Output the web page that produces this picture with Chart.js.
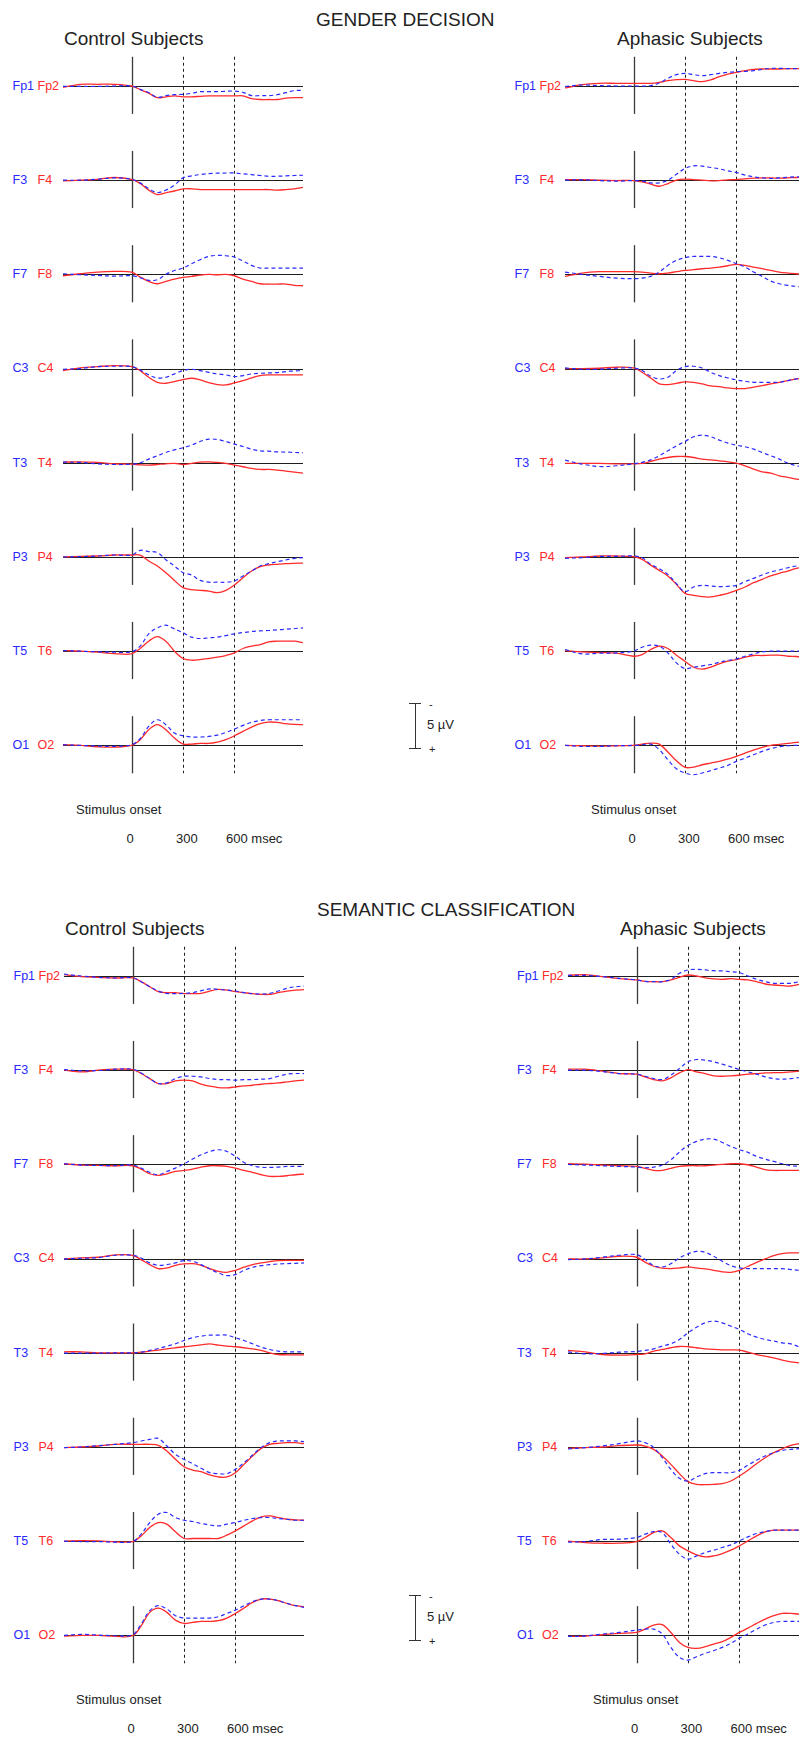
<!DOCTYPE html>
<html>
<head>
<meta charset="utf-8">
<title>ERP grand averages</title>
<script src="https://cdn.jsdelivr.net/npm/chart.js@4.4.1/dist/chart.umd.min.js"></script>
<style>
  html, body { margin: 0; padding: 0; background: #fff; }
  body { position: relative; width: 799px; height: 1740px; overflow: hidden;
         font-family: "Liberation Sans", Arial, sans-serif; color: #222; }
  canvas { position: absolute; }
  .txt { position: absolute; white-space: nowrap; }
  .bar { position: absolute; background: #333; }
</style>
</head>
<body>
<script>
// sample times (ms) shared by every trace
const times = [-400, -300, -200, -100, 0, 50, 100, 150, 200, 250, 300, 350, 400,
               450, 500, 550, 600, 650, 700, 750, 800, 850, 900, 950, 1000];
const leftSites  = ['Fp1', 'F3', 'F7', 'C3', 'T3', 'P3', 'T5', 'O1'];
const rightSites = ['Fp2', 'F4', 'F8', 'C4', 'T4', 'P4', 'T6', 'O2'];
const latencyMarks = [300, 600];
const timeLabels = ['0', '300', '600 msec'];

// amplitudes in µV (negative up), one row per electrode, same order as the sites
const genderControlLeft = [
  [0.05,0.05,0.05,0,0, 0.37,0.74,1.26,1.07,0.96,0.93,0.81,0.63,0.63,0.63,0.59,0.56,0.7,1.07,1.07,1.07,0.96,0.74,0.52,0.48],
  [0,0,-0.1,-0.26,-0.1, 0.3,0.93,1.37,1.1,0.55,-0.26,-0.48,-0.63,-0.74,-0.78,-0.8,-0.8,-0.7,-0.63,-0.52,-0.44,-0.44,-0.48,-0.52,-0.55],
  [-0.07,0.04,0.11,0.19,0.15, 0.37,0.67,0.59,0,-0.44,-0.7,-1.19,-1.63,-2.0,-2.11,-2.07,-1.93,-1.48,-1.0,-0.7,-0.7,-0.7,-0.7,-0.7,-0.7],
  [0.07,0,-0.22,-0.26,-0.22, 0.15,0.7,1.04,0.96,0.59,0.22,0.07,0.22,0.41,0.59,0.7,0.89,0.78,0.59,0.52,0.48,0.44,0.33,0.26,0.22],
  [-0.07,-0.04,0.11,0.19,0.15, 0,-0.41,-0.78,-1.15,-1.44,-1.67,-1.96,-2.37,-2.63,-2.59,-2.37,-2.07,-1.81,-1.52,-1.33,-1.3,-1.22,-1.19,-1.15,-1.11],
  [0,-0.04,-0.11,-0.22,-0.22, -0.74,-0.6,-0.5,0.3,1.0,1.74,2.0,2.6,2.8,2.8,2.8,2.67,2.1,1.56,1.0,0.74,0.52,0.33,0.15,0.07],
  [-0.07,0,0.07,0.11,0.07, -0.56,-1.93,-2.59,-2.89,-2.48,-2.04,-1.56,-1.41,-1.48,-1.56,-1.74,-1.93,-2.07,-2.19,-2.26,-2.3,-2.37,-2.44,-2.52,-2.59],
  [-0.07,0,0.07,0.11,-0.07, -0.74,-2.11,-2.85,-2.3,-1.37,-1.07,-0.93,-0.93,-1.0,-1.15,-1.44,-1.81,-2.22,-2.56,-2.78,-2.85,-2.85,-2.85,-2.85,-2.85]
];
const genderControlRight = [
  [0.15,-0.19,-0.19,-0.19,0, 0.4,0.8,1.3,1.2,1.1,1.2,1.2,1.15,1.1,1.1,1.1,1.1,1.1,1.4,1.5,1.5,1.5,1.35,1.3,1.3],
  [0.07,0,-0.1,-0.3,-0.1, 0.37,1.1,1.6,1.4,1.2,0.96,0.96,1.04,1.04,1.04,1.04,1.04,1.04,1.04,1.04,1.04,1.1,1.04,0.96,0.8],
  [0.15,-0.07,-0.26,-0.33,-0.26, 0.3,0.78,1.04,0.78,0.52,0.33,0.22,0.07,0,0.04,0,0.15,0.52,0.78,1.04,1.07,1.07,1.07,1.22,1.26],
  [0.22,-0.07,-0.22,-0.33,-0.22, 0.22,0.96,1.52,1.63,1.44,1.22,1.07,1.26,1.56,1.78,1.81,1.59,1.33,1.04,0.78,0.7,0.7,0.7,0.7,0.7],
  [-0.07,-0.11,-0.04,0.11,0.15, 0.22,0.26,0.19,0.11,0.07,0.19,0.07,-0.07,-0.11,-0.04,0.07,0.26,0.44,0.63,0.74,0.74,0.81,0.93,1.04,1.15],
  [0,-0.07,-0.11,-0.22,-0.22, -0.22,0.44,1.0,1.74,2.6,3.41,3.63,3.7,3.78,3.96,3.7,3.11,2.3,1.56,1.07,0.89,0.81,0.74,0.7,0.67],
  [-0.07,0,0.11,0.26,0.3, -0.3,-1.11,-1.63,-1.11,0,0.81,1.0,0.93,0.81,0.67,0.48,0.19,-0.3,-0.56,-0.74,-1.04,-1.11,-1.11,-1.11,-0.93],
  [-0.07,0,0.15,0.19,0, -0.63,-1.74,-2.3,-1.74,-0.81,-0.15,-0.15,-0.22,-0.22,-0.37,-0.63,-1.07,-1.56,-2.04,-2.41,-2.59,-2.56,-2.41,-2.33,-2.3]
];
const genderAphasicLeft = [
  [0.07,-0.11,-0.04,0,0, 0,-0.04,-0.33,-0.85,-1.26,-1.41,-1.26,-1.15,-1.26,-1.41,-1.52,-1.59,-1.63,-1.7,-1.85,-1.96,-1.96,-1.93,-1.93,-1.93],
  [0,-0.04,0.04,0.11,0.04, 0.11,0.3,0.3,0,-0.67,-1.3,-1.59,-1.56,-1.41,-1.26,-1.04,-0.85,-0.56,-0.37,-0.26,-0.19,-0.26,-0.33,-0.37,-0.37],
  [-0.26,0,0.22,0.41,0.48, 0.41,0.22,-0.26,-1.0,-1.56,-1.85,-2.0,-2.0,-2.0,-1.85,-1.56,-1.19,-0.81,-0.26,0.22,0.74,1.04,1.22,1.33,1.41],
  [-0.07,0.07,0.07,-0.04,-0.07, 0.22,0.85,1.15,0.96,0.22,-0.22,-0.26,-0.07,0.41,0.78,1.04,1.26,1.41,1.52,1.52,1.52,1.52,1.33,1.15,1.04],
  [-0.3,0.15,0.41,0.33,0.11, -0.04,-0.33,-0.78,-1.33,-1.89,-2.37,-2.89,-3.07,-2.89,-2.52,-2.19,-1.96,-1.78,-1.52,-1.15,-0.78,-0.41,0.04,0.33,0.52],
  [0.15,0.07,-0.07,-0.07,-0.11, 0.07,0.81,1.3,1.93,2.96,3.85,3.33,3.15,3.22,3.3,3.26,3.15,2.74,2.37,2.0,1.67,1.44,1.19,1.0,0.89],
  [-0.19,0.3,0.22,0.19,0, -0.44,-0.67,-0.56,0.19,1.3,1.93,1.78,1.63,1.48,1.22,1.04,0.85,0.56,0.3,0.07,0,0,0,0,0],
  [0,0.11,0.11,0.04,0, -0.07,-0.15,0.48,1.59,2.59,3.07,3.26,3.07,2.81,2.52,2.22,1.78,1.41,1.04,0.67,0.37,0.15,0.04,0,0]
];
const genderAphasicRight = [
  [0.22,-0.15,-0.3,-0.3,-0.3, -0.3,-0.3,-0.41,-0.59,-0.7,-0.74,-0.59,-0.48,-0.67,-1.04,-1.33,-1.52,-1.7,-1.85,-1.89,-1.89,-1.89,-1.93,-1.93,-1.93],
  [-0.07,-0.07,0,0.04,0.04, 0.19,0.44,0.67,0.37,0,-0.11,-0.07,0,0.07,0.04,-0.04,-0.07,-0.15,-0.22,-0.26,-0.26,-0.22,-0.26,-0.3,-0.3],
  [0.22,-0.15,-0.3,-0.3,-0.3, -0.26,-0.15,-0.07,-0.15,-0.3,-0.44,-0.52,-0.63,-0.7,-0.81,-0.96,-1.11,-1.0,-0.81,-0.63,-0.44,-0.26,-0.15,-0.07,0],
  [0,0,-0.04,-0.15,-0.07, 0.41,1.04,1.7,1.78,1.63,1.48,1.52,1.7,1.93,2.0,2.15,2.22,2.22,2.07,1.89,1.7,1.52,1.33,1.15,1.04],
  [0.07,0.07,0.07,0.11,0.11, 0.07,-0.15,-0.41,-0.59,-0.7,-0.7,-0.59,-0.41,-0.33,-0.22,-0.11,0.04,0.33,0.7,1.0,1.15,1.44,1.63,1.81,1.93],
  [0.07,0,-0.11,-0.11,-0.04, 0.26,0.9,1.5,2.1,3.04,4.04,4.26,4.41,4.44,4.26,4.04,3.7,3.33,2.85,2.48,2.1,1.81,1.56,1.26,1.1],
  [-0.07,0.07,0.15,0.22,0.56, 0.37,-0.19,-0.56,-0.3,0.44,1.11,1.78,2.0,1.78,1.41,1.11,0.93,0.67,0.48,0.48,0.44,0.44,0.56,0.59,0.67],
  [0,0.04,0.07,0.04,0, -0.15,-0.26,-0.15,0.74,1.7,2.44,2.41,2.15,1.96,1.78,1.52,1.22,0.85,0.52,0.22,0,-0.11,-0.22,-0.33,-0.37]
];
const semanticControlLeft = [
  [-0.22,0,0.15,0.22,0.19, 0.63,1.19,1.67,1.93,1.96,1.93,1.85,1.63,1.44,1.48,1.56,1.67,1.85,1.96,2.0,1.93,1.67,1.37,1.19,1.11],
  [-0.07,0.07,0.04,-0.11,-0.11, 0.3,0.93,1.48,1.41,0.93,0.67,0.67,0.74,0.93,1.04,1.04,1.11,1.04,1.04,1.0,0.93,0.67,0.44,0.37,0.37],
  [-0.07,0.07,0.11,0.15,0.07, 0.41,0.89,1.15,0.78,0.41,-0.07,-0.59,-1.07,-1.44,-1.63,-1.44,-0.89,-0.22,0.15,0.33,0.33,0.3,0.22,0.22,0.22],
  [0.04,-0.04,-0.11,-0.37,-0.37, -0.07,0.48,0.74,0.67,0.48,0.22,0.3,0.67,1.15,1.59,1.89,1.78,1.3,0.96,0.78,0.67,0.59,0.56,0.52,0.48],
  [0.04,0.04,0.04,0,0, -0.07,-0.26,-0.48,-0.74,-1.0,-1.37,-1.67,-1.85,-1.96,-1.96,-1.96,-1.67,-1.37,-1.0,-0.63,-0.37,-0.19,-0.11,-0.11,-0.11],
  [0.07,0,-0.15,-0.3,-0.48, -0.67,-0.85,-0.96,-0.11,0.81,1.37,1.85,2.37,2.85,2.96,2.96,2.48,1.74,0.89,0.07,-0.48,-0.67,-0.67,-0.67,-0.59],
  [0,0.04,0.04,0.11,0.04, -0.78,-2.07,-3.0,-3.19,-2.63,-2.33,-2.19,-1.96,-1.81,-1.7,-1.89,-2.07,-2.33,-2.52,-2.63,-2.63,-2.52,-2.44,-2.33,-2.33],
  [0,-0.11,-0.04,0.04,-0.07, -1.26,-2.74,-3.3,-2.93,-2.19,-1.93,-1.93,-1.93,-1.93,-2.07,-2.44,-2.81,-3.3,-3.74,-4.04,-4.04,-3.85,-3.56,-3.3,-3.11]
];
const semanticControlRight = [
  [-0.15,0.07,0.15,0.22,0.22, 0.63,1.19,1.74,1.85,1.85,1.96,1.96,1.93,1.67,1.48,1.56,1.74,1.85,1.96,2.04,2.04,1.85,1.67,1.56,1.52],
  [0,0.19,0,-0.11,-0.07, 0.37,0.93,1.48,1.48,1.19,1.11,1.19,1.56,1.78,1.93,1.96,1.85,1.74,1.67,1.56,1.48,1.41,1.3,1.19,1.11],
  [-0.07,0.07,0.11,0.15,0.15, 0.52,1.04,1.22,1.04,0.78,0.67,0.52,0.3,0.15,0.15,0.22,0.41,0.67,0.89,1.15,1.33,1.33,1.26,1.15,1.07],
  [0.04,-0.07,-0.15,-0.41,-0.37, 0.11,0.67,1.11,1.04,0.74,0.59,0.56,0.74,1.11,1.41,1.52,1.3,0.96,0.67,0.48,0.33,0.22,0.19,0.19,0.19],
  [-0.11,-0.11,0,0,0, -0.07,-0.19,-0.3,-0.44,-0.56,-0.67,-0.78,-0.89,-1.0,-0.85,-0.74,-0.67,-0.56,-0.44,-0.26,0,0.19,0.22,0.22,0.22],
  [0.07,0,-0.11,-0.3,-0.3, -0.3,-0.3,-0.19,0.44,1.37,2.19,2.56,2.74,3.11,3.33,3.33,2.85,1.93,1.0,0.15,-0.3,-0.41,-0.48,-0.48,-0.37],
  [0,-0.07,-0.04,0.07,0.04, -0.59,-1.52,-2.07,-1.89,-1.04,-0.3,-0.3,-0.3,-0.3,-0.3,-0.67,-1.15,-1.7,-2.26,-2.7,-2.81,-2.63,-2.44,-2.37,-2.33],
  [0.07,0,0,0.11,0.04, -1.07,-2.56,-3.04,-2.56,-1.7,-1.33,-1.44,-1.56,-1.56,-1.63,-1.93,-2.44,-3.04,-3.67,-4.04,-4.04,-3.85,-3.56,-3.3,-3.19]
];
const semanticAphasicLeft = [
  [-0.07,-0.07,0.07,0.26,0.44, 0.59,0.63,0.63,0.37,-0.3,-0.67,-0.74,-0.67,-0.59,-0.56,-0.48,-0.37,0,0.37,0.63,0.81,0.81,0.81,0.63,0.52],
  [0,0,0.15,0.37,0.44, 0.67,0.93,1.04,0.56,-0.19,-0.93,-1.19,-1.11,-0.93,-0.67,-0.37,-0.07,0.19,0.44,0.74,0.93,1.0,0.93,0.81,0.74],
  [0,0.07,0.15,0.22,0.3, 0.37,0.3,0.07,-0.52,-1.37,-2.11,-2.56,-2.81,-2.81,-2.44,-2.0,-1.63,-1.33,-0.89,-0.59,-0.33,-0.07,0.15,0.22,0.3],
  [0.11,0.04,-0.15,-0.37,-0.44, 0.11,0.78,0.93,0.56,-0.07,-0.52,-0.81,-0.7,-0.26,0.3,0.78,1.04,1.11,1.11,1.11,1.11,1.11,1.22,1.3,1.33],
  [-0.11,0.11,0.07,-0.07,-0.15, -0.26,-0.44,-0.74,-1.0,-1.48,-2.22,-2.85,-3.33,-3.52,-3.33,-2.96,-2.59,-2.11,-1.74,-1.48,-1.3,-1.11,-1.0,-0.67,-0.48],
  [0.22,0.07,-0.11,-0.37,-0.67, -0.48,0.07,1.19,2.48,3.48,3.78,3.33,2.96,2.85,2.85,2.85,2.59,2.0,1.48,1.0,0.63,0.37,0.26,0.19,0.19],
  [0.11,0.04,-0.19,-0.22,-0.41, -0.78,-1.07,-0.96,0.33,1.44,2.0,1.63,1.26,1.0,0.7,0.41,-0.04,-0.48,-0.85,-1.07,-1.22,-1.22,-1.22,-1.22,-1.22],
  [0.11,0.07,-0.15,-0.33,-0.59, -0.7,-0.7,-0.15,1.33,2.44,2.74,2.37,2.0,1.7,1.33,0.89,0.3,-0.15,-0.7,-1.15,-1.44,-1.56,-1.56,-1.56,-1.56]
];
const semanticAphasicRight = [
  [-0.07,-0.15,0.07,0.3,0.44, 0.59,0.63,0.63,0.44,0.15,-0.11,0,0.22,0.33,0.37,0.3,0.37,0.44,0.63,0.89,1.0,1.07,1.11,0.93,0.81],
  [-0.11,-0.11,0.11,0.37,0.44, 0.74,1.04,1.19,0.85,0.3,-0.07,0.19,0.37,0.63,0.67,0.63,0.56,0.44,0.37,0.3,0.26,0.26,0.19,0.11,0.11],
  [-0.07,-0.04,0.07,0.15,0.22, 0.44,0.67,0.67,0.44,0.22,0.15,0.15,0.15,0.07,0,-0.07,-0.07,0.04,0.3,0.59,0.67,0.67,0.67,0.67,0.67],
  [0.04,0.04,-0.07,-0.26,-0.15, 0.41,0.85,1.07,1.11,1.04,0.93,1.04,1.15,1.3,1.48,1.52,1.3,0.85,0.41,0.04,-0.33,-0.56,-0.63,-0.63,-0.63],
  [-0.26,-0.11,0.19,0.26,0.19, 0.11,-0.19,-0.37,-0.56,-0.7,-0.67,-0.56,-0.44,-0.37,-0.33,-0.33,-0.3,-0.07,0.19,0.37,0.56,0.81,1.0,1.11,1.15],
  [0.15,0.07,0,-0.15,-0.22, -0.11,0.26,1.0,1.93,2.96,3.85,4.15,4.19,4.15,4.07,3.78,3.22,2.59,1.85,1.19,0.63,0.19,-0.19,-0.37,-0.48],
  [0,0.15,0.22,0.22,0.04, -0.41,-0.96,-1.15,-0.41,0.52,1.07,1.52,1.74,1.63,1.37,1.0,0.52,-0.04,-0.59,-1.04,-1.22,-1.22,-1.22,-1.22,-1.22],
  [0.11,0.07,-0.07,-0.22,-0.33, -0.7,-1.15,-1.19,-0.33,0.78,1.33,1.44,1.26,0.96,0.7,0.22,-0.33,-0.81,-1.33,-1.81,-2.19,-2.44,-2.44,-2.37,-2.37]
];

// layout
const PX_PER_UV = 9;          // 45 px = 5 µV calibration bar
const ROW_PX = 94.2;          // distance between electrode baselines
const ROW_UV = ROW_PX / PX_PER_UV;
const PAD_PX = 36;
const PLOT_W = 240;           // -400 .. 1000 ms
const MARK_UP = -3.25, MARK_DOWN = 3.1;   // onset tick extent, µV
const BLUE = '#2a2aff', RED = '#ff2a2a';
const FONT = '"Liberation Sans", Arial, sans-serif';

const panels = [
  { onsetX: 132,   baseY: 86,  left: genderControlLeft,   right: genderControlRight,   title: 'Control Subjects', titleX: 64,  stimDX: -56 },
  { onsetX: 634,   baseY: 86,  left: genderAphasicLeft,   right: genderAphasicRight,   title: 'Aphasic Subjects', titleX: 617, stimDX: -43 },
  { onsetX: 133,   baseY: 976, left: semanticControlLeft, right: semanticControlRight, title: 'Control Subjects', titleX: 65,  stimDX: -57 },
  { onsetX: 636.5, baseY: 976, left: semanticAphasicLeft, right: semanticAphasicRight, title: 'Aphasic Subjects', titleX: 620, stimDX: -43.5 }
];
const sections = [
  { title: 'GENDER DECISION',         x: 316, baseline: 26,  scaleTop: 703 },
  { title: 'SEMANTIC CLASSIFICATION', x: 317, baseline: 916, scaleTop: 1595 }
];

// text placed by its baseline
function addText(str, left, baseline, size, color) {
  const lh = Math.round(size * 1.2);
  const d = document.createElement('div');
  d.className = 'txt';
  d.textContent = str;
  d.style.fontSize = size + 'px';
  d.style.lineHeight = lh + 'px';
  d.style.color = color || '#222';
  d.style.left = left + 'px';
  d.style.top = (baseline - ((lh - size * 1.117) / 2 + size * 0.905)) + 'px';
  document.body.appendChild(d);
  return d;
}

// baselines, onset ticks and the 300/600 ms markers
const eegGuides = {
  id: 'eegGuides',
  beforeDatasetsDraw(chart) {
    const { ctx, scales: { x, y } } = chart;
    const rows = chart.options.plugins.eegGuides.rows;
    const x0 = x.getPixelForValue(times[0]);
    const x1 = x.getPixelForValue(times[times.length - 1]);
    const xOn = Math.round(x.getPixelForValue(0)) + 0.5;
    ctx.save();
    for (let r = 0; r < rows; r++) {
      const yb = Math.round(y.getPixelForValue(r * ROW_UV)) + 0.5;
      ctx.strokeStyle = '#1e1e1e';
      ctx.lineWidth = 1;
      ctx.beginPath();
      ctx.moveTo(x0, yb);
      ctx.lineTo(x1, yb);
      ctx.stroke();
      ctx.strokeStyle = '#3a3a3a';
      ctx.lineWidth = 1.3;
      ctx.beginPath();
      ctx.moveTo(xOn, y.getPixelForValue(r * ROW_UV + MARK_UP));
      ctx.lineTo(xOn, y.getPixelForValue(r * ROW_UV + MARK_DOWN));
      ctx.stroke();
    }
    ctx.strokeStyle = '#1e1e1e';
    ctx.lineWidth = 1;
    ctx.setLineDash([3, 3]);
    latencyMarks.forEach(t => {
      const xm = Math.round(x.getPixelForValue(t)) + 0.5;
      ctx.beginPath();
      ctx.moveTo(xm, y.getPixelForValue(MARK_UP));
      ctx.lineTo(xm, y.getPixelForValue((rows - 1) * ROW_UV + MARK_DOWN));
      ctx.stroke();
    });
    ctx.restore();
  }
};

function traceData(values, row) {
  return times.map((t, k) => ({ x: t, y: values[k] + row * ROW_UV }));
}

function buildPanel(p) {
  const rows = leftSites.length;
  const height = Math.round((rows - 1) * ROW_PX + 2 * PAD_PX);
  const left = Math.round(p.onsetX - (0 - times[0]) * PLOT_W / (times[times.length - 1] - times[0]));
  const canvas = document.createElement('canvas');
  canvas.width = PLOT_W;
  canvas.height = height;
  canvas.style.left = left + 'px';
  canvas.style.top = Math.round(p.baseY - PAD_PX) + 'px';
  document.body.appendChild(canvas);

  const datasets = [];
  // blue (left hemisphere, dashed) listed first so it is drawn over red
  for (let r = 0; r < rows; r++) {
    datasets.push({
      label: leftSites[r], data: traceData(p.left[r], r),
      borderColor: BLUE, borderWidth: 1.2, borderDash: [4, 3], tension: 0.35
    });
  }
  for (let r = 0; r < rows; r++) {
    datasets.push({
      label: rightSites[r], data: traceData(p.right[r], r),
      borderColor: RED, borderWidth: 1.3, tension: 0.35
    });
  }

  const yMin = -PAD_PX / PX_PER_UV;
  new Chart(canvas, {
    type: 'line',
    data: { datasets },
    options: {
      responsive: false,
      animation: false,
      events: [],
      layout: { padding: 0 },
      elements: { point: { radius: 0 } },
      plugins: {
        legend: { display: false },
        tooltip: { enabled: false },
        eegGuides: { rows }
      },
      scales: {
        x: { type: 'linear', min: times[0], max: times[times.length - 1], display: false },
        y: { type: 'linear', min: yMin, max: yMin + height / PX_PER_UV, reverse: true, display: false }
      }
    },
    plugins: [eegGuides]
  });

  // electrode names, stimulus axis text, panel title
  for (let r = 0; r < rows; r++) {
    const b = p.baseY + r * ROW_PX + 4.6;
    addText(leftSites[r], p.onsetX - 119.5, b, 12.5, BLUE);
    addText(rightSites[r], p.onsetX - 94.5, b, 12.5, RED);
  }
  addText(p.title, p.titleX, p.baseY - 41, 19, '#222');
  addText('Stimulus onset', p.onsetX + p.stimDX, p.baseY + 729, 13, '#222');
  const offs = [-5.5, 44, 94];
  timeLabels.forEach((s, i) => addText(s, p.onsetX + offs[i], p.baseY + 758, 13, '#222'));
}

function buildScaleBar(top) {
  const x = 415, len = 5 * PX_PER_UV;
  const parts = [
    { l: x, t: top, w: 1.3, h: len },
    { l: x - 6, t: top, w: 12, h: 1.3 },
    { l: x - 6, t: top + len, w: 12, h: 1.3 }
  ];
  parts.forEach(s => {
    const d = document.createElement('div');
    d.className = 'bar';
    d.style.left = s.l + 'px'; d.style.top = s.t + 'px';
    d.style.width = s.w + 'px'; d.style.height = s.h + 'px';
    document.body.appendChild(d);
  });
  addText('-', x + 14, top + 5, 11, '#222');
  addText('5 µV', x + 12, top + 27, 13, '#222');
  addText('+', x + 14, top + 50, 11, '#222');
}

sections.forEach(s => {
  addText(s.title, s.x, s.baseline, 19, '#222');
  buildScaleBar(s.scaleTop);
});
panels.forEach(buildPanel);
</script>
</body>
</html>
